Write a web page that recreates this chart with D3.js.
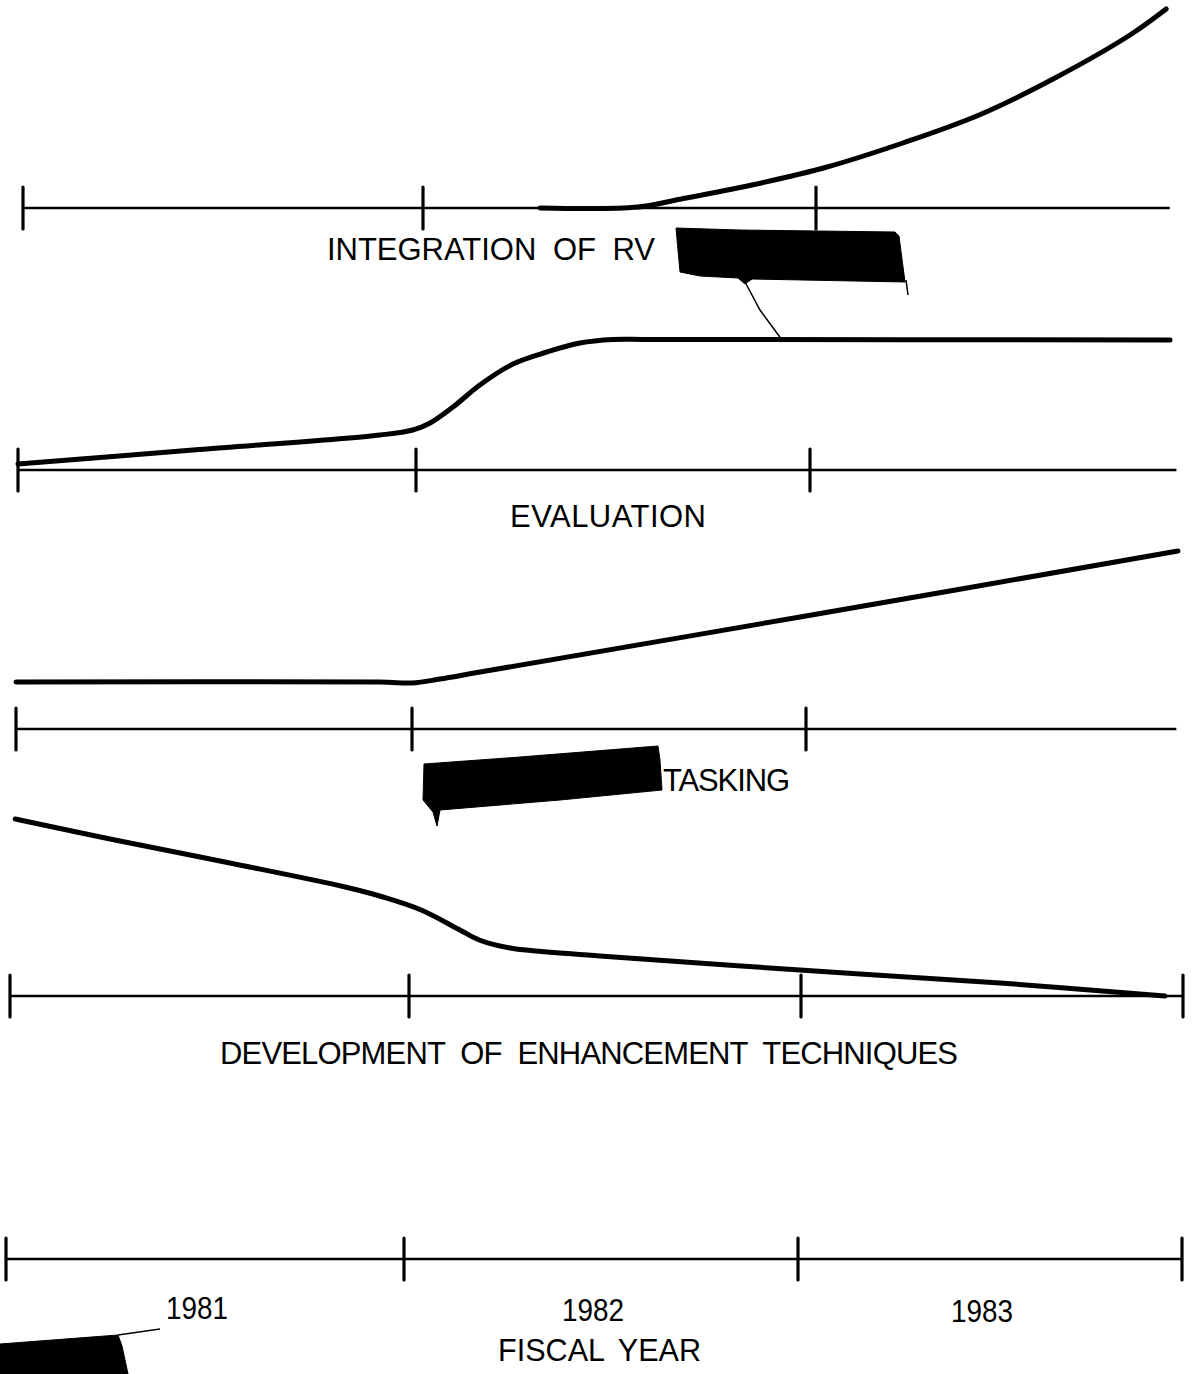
<!DOCTYPE html>
<html>
<head>
<meta charset="utf-8">
<script src="https://cdn.jsdelivr.net/npm/d3@7"></script>
<style>
  html, body { margin: 0; padding: 0; background: #fff; }
  svg { display: block; }
  text { font-family: "Liberation Sans", Arial, sans-serif; fill: #000; }
</style>
</head>
<body>
<svg id="chart" width="1193" height="1374"></svg>
<script>
// ---------------- DATA ----------------
// Fiscal-year boundaries (0 = start of FY1981, 3 = end of FY1983)
const yearBounds = [0, 1, 2, 3];
const fiscalYears = ["1981", "1982", "1983"];
const axisTitle = "FISCAL YEAR";
const panelTitles = ["INTEGRATION OF RV", "EVALUATION", "TASKING", "DEVELOPMENT OF ENHANCEMENT TECHNIQUES"];

// Relative activity level (arbitrary units above each baseline) vs. time in fiscal years
const integrationYears  = [1.298, 1.547, 1.644, 1.837, 2.028, 2.221, 2.415, 2.608, 2.799, 2.891];
const integrationLevels = [0, 1, 8, 23, 41, 65, 93, 130, 173, 199];

const evaluationYears  = [0, 0.455, 0.910, 0.992, 1.036, 1.094, 1.162, 1.246, 1.332, 1.416, 1.500, 1.594, 2.914];
const evaluationLevels = [6, 20.5, 35, 40, 47, 63, 85, 106, 118, 127, 130.5, 130.5, 130];

const taskingYears  = [0, 0.919, 1.000, 1.071, 1.173, 1.985, 2.944];
const taskingLevels = [47, 47, 46, 50, 57, 112, 178];

const developmentYears  = [0.013, 0.263, 0.551, 0.840, 0.935, 1.031, 1.130, 1.179, 1.258, 1.487, 1.997, 2.521, 2.953];
const developmentLevels = [177, 156, 133, 109, 99, 86, 66, 56, 48, 40, 26, 13, 0];

// ---------------- LAYOUT ----------------
const panels = [
  { title: 0, years: integrationYears, levels: integrationLevels,
    xRange: [23, 423, 816, 1209], axisY: 208, axisEnd: 2.90, ticks: [0, 1, 2],
    titleX: 327, titleY: 260, titleW: 328 },
  { title: 1, years: evaluationYears, levels: evaluationLevels,
    xRange: [18, 416, 810, 1204], axisY: 470, axisEnd: 2.93, ticks: [0, 1, 2],
    titleX: 510, titleY: 527, titleW: 196 },
  { title: 2, years: taskingYears, levels: taskingLevels,
    xRange: [16, 412, 806, 1200], axisY: 729, axisEnd: 2.94, ticks: [0, 1, 2],
    titleX: 663, titleY: 791, titleW: 127 },
  { title: 3, years: developmentYears, levels: developmentLevels,
    xRange: [10, 409, 801, 1183], axisY: 996, axisEnd: 3, ticks: [0, 1, 2, 3],
    titleX: 220, titleY: 1064, titleW: 738 }
];
const yearAxis = { xRange: [6, 404, 798, 1182], axisY: 1259, labelY: 1319, titleY: 1361 };
const tickLen = 42;

const svg = d3.select("#chart");
svg.append("rect").attr("width", 1193).attr("height", 1374).attr("fill", "#fff");

function drawAxis(g, x, axisY, endYear, ticks) {
  g.append("line")
    .attr("x1", x(0)).attr("x2", x(endYear))
    .attr("y1", axisY).attr("y2", axisY)
    .attr("stroke", "#000").attr("stroke-width", 2.6);
  g.selectAll("line.tick").data(ticks).enter().append("line")
    .attr("class", "tick")
    .attr("x1", d => x(d)).attr("x2", d => x(d))
    .attr("y1", axisY - tickLen / 2).attr("y2", axisY + tickLen / 2)
    .attr("stroke", "#000").attr("stroke-width", 3.2).attr("stroke-linecap", "round");
}

panels.forEach(p => {
  const g = svg.append("g");
  const x = d3.scaleLinear().domain(yearBounds).range(p.xRange);
  const y = d3.scaleLinear().domain([0, 200]).range([p.axisY, p.axisY - 200]);
  drawAxis(g, x, p.axisY, p.axisEnd, p.ticks);
  const pts = p.years.map((t, i) => [t, p.levels[i]]);
  const line = d3.line().x(d => x(d[0])).y(d => y(d[1])).curve(d3.curveCatmullRom.alpha(0.5));
  g.append("path").datum(pts)
    .attr("d", line)
    .attr("fill", "none").attr("stroke", "#000")
    .attr("stroke-width", 5).attr("stroke-linecap", "round").attr("stroke-linejoin", "round");
  g.append("text")
    .attr("x", p.titleX).attr("y", p.titleY)
    .attr("font-size", 31)
    .style("word-spacing", "8px")
    .attr("textLength", p.titleW).attr("lengthAdjust", "spacing")
    .text(panelTitles[p.title]);
});

// Fiscal-year axis
{
  const g = svg.append("g");
  const x = d3.scaleLinear().domain(yearBounds).range(yearAxis.xRange);
  drawAxis(g, x, yearAxis.axisY, 3, yearBounds);
  g.selectAll("text.yr").data(fiscalYears).enter().append("text")
    .attr("class", "yr")
    .attr("text-anchor", "middle")
    .attr("x", (d, i) => x(i + 0.5) - 8).attr("y", (d, i) => yearAxis.labelY + i * 1.5)
    .attr("font-size", 31)
    .attr("textLength", 62).attr("lengthAdjust", "spacingAndGlyphs")
    .text(d => d);
  g.append("text")
    .attr("x", 498).attr("y", yearAxis.titleY)
    .attr("font-size", 31)
    .style("word-spacing", "6px")
    .attr("textLength", 203).attr("lengthAdjust", "spacingAndGlyphs")
    .text(axisTitle);
}

// Redaction marks present on the scanned original
const redactions = svg.append("g").attr("fill", "#000").attr("stroke", "#000");
redactions.append("path").attr("stroke-width", 1)
  .attr("d", "M676,228 L740,230 L895,232 L899,236 L905,282 L752,279 L745,284 L738,278 L700,276 L680,272 Z");
redactions.append("path").attr("fill", "none").attr("stroke-width", 1.5)
  .attr("d", "M744,280 L760,310 L782,340");
redactions.append("path").attr("fill", "none").attr("stroke-width", 1.5)
  .attr("d", "M906,280 L908,295");
redactions.append("path").attr("stroke-width", 1)
  .attr("d", "M424,764 L520,757 L658,746 L660,760 L662,790 L560,800 L440,810 L437,826 L433,812 L423,800 Z");
redactions.append("path").attr("stroke-width", 1)
  .attr("d", "M0,1344 L118,1335 L122,1346 L128,1374 L0,1374 Z");
redactions.append("path").attr("fill", "none").attr("stroke-width", 1.3)
  .attr("d", "M118,1335 L160,1329");
</script>
</body>
</html>
